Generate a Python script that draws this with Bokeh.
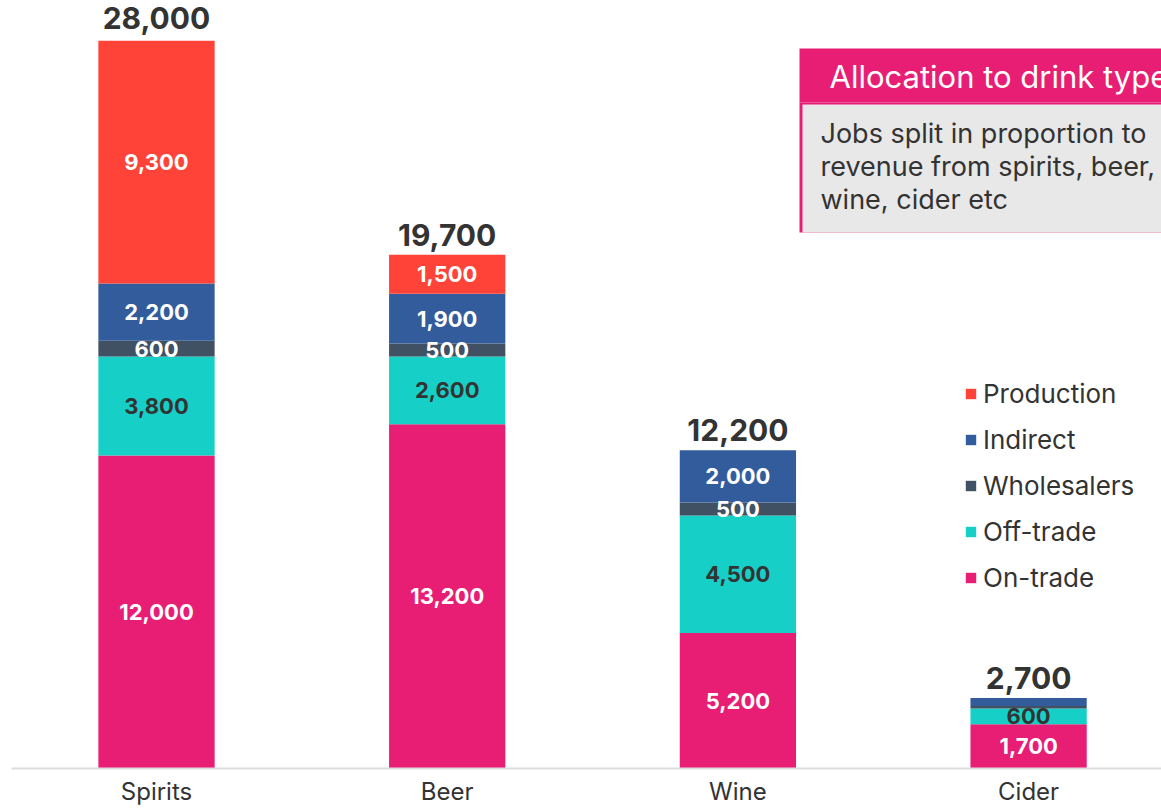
from bokeh.plotting import figure
from bokeh.models import (ColumnDataSource, Range1d, FixedTicker, Legend, LegendItem,
                          BoxAnnotation, Label)
from bokeh.core.properties import value
from bokeh.embed import file_html
from bokeh.resources import INLINE

# ---- data ----
categories = ["Spirits", "Beer", "Wine", "Cider"]
series = ["On-trade", "Off-trade", "Wholesalers", "Indirect", "Production"]
on_trade = [12000, 13200, 5200, 1700]
off_trade = [3800, 2600, 4500, 600]
wholesalers = [600, 500, 500, 100]
indirect = [2200, 1900, 2000, 300]
production = [9300, 1500, 0, 0]
totals = [28000, 19700, 12200, 2700]
colors = ["#E81D74", "#16D0C8", "#3F5163", "#335C9C", "#FF4338"]
label_colors = ["white", "#333333", "white", "white", "white"]

FONT = "Inter"
W, H = 1161, 809
FRAME_L, FRAME_B = 11, 768
PX_PER_CAT = 290.7
PX_PER_UNIT = 0.02608
x = [i + 0.5 for i in range(len(categories))]
x0 = 0.0012
x1 = x0 + (W - FRAME_L) / PX_PER_CAT
y1 = FRAME_B / PX_PER_UNIT

src = ColumnDataSource(dict(x=x, total=totals, tlabel=[f"{t:,}" for t in totals],
                            **dict(zip(series, [on_trade, off_trade, wholesalers, indirect, production]))))

p = figure(width=W, height=H, output_backend="svg", toolbar_location=None,
           x_range=Range1d(x0, x1), y_range=Range1d(0, y1),
           min_border_left=FRAME_L, min_border_right=0, min_border_top=0,
           min_border_bottom=H - FRAME_B)
p.outline_line_color = None
p.grid.visible = False
p.yaxis.visible = False
p.background_fill_color = "white"

rends = p.vbar_stack(series, x="x", width=0.40, color=colors, line_color=None, source=src)

# segment labels
lx, ly, lt, lc = [], [], [], []
vals = [on_trade, off_trade, wholesalers, indirect, production]
for i in range(len(categories)):
    base = 0
    for s, v in enumerate(vals):
        val = v[i]
        if val >= 500:
            lx.append(x[i]); ly.append(base + val / 2); lt.append(f"{val:,}"); lc.append(label_colors[s])
        base += val
p.text(x=lx, y=ly, text=lt, text_color=lc, text_align="center", text_baseline="middle",
       text_font=value(FONT), text_font_size="22px", text_font_style="bold")

# totals
p.text(x="x", y="total", text="tlabel", source=src, text_color="#333333", text_align="center",
       text_baseline="middle", y_offset=-20, text_font=value(FONT), text_font_size="30px",
       text_font_style="bold")

# x axis
ax = p.xaxis[0]
ax.ticker = FixedTicker(ticks=x)
ax.major_label_overrides = {xx: c for xx, c in zip(x, categories)}
ax.axis_line_color = "#dddddd"
ax.axis_line_width = 2
ax.major_tick_line_color = None
ax.minor_tick_line_color = None
ax.major_tick_in = 0
ax.major_tick_out = 0
ax.major_label_text_font = FONT
ax.major_label_text_font_size = "24px"
ax.major_label_text_color = "#333333"
ax.major_label_standoff = 8

# legend
items = [LegendItem(label=s, renderers=[r]) for s, r in zip(series, rends)][::-1]
leg = Legend(items=items, location=(953, 175), orientation="vertical",
             glyph_width=13, glyph_height=13, label_standoff=6, spacing=15,
             padding=0, margin=0, border_line_color=None, background_fill_alpha=0,
             label_text_font=FONT, label_text_font_size="26px", label_text_color="#333333")
p.add_layout(leg)

# info box (pixel -> data helpers for layout only)
def px2x(px):
    return x0 + (px - FRAME_L) / PX_PER_CAT

def px2y(py):
    return (FRAME_B - py) / PX_PER_UNIT

p.add_layout(BoxAnnotation(left=px2x(799), top=px2y(48), bottom=px2y(102),
                           fill_color="#E81D74", fill_alpha=1, line_color=None))
p.add_layout(BoxAnnotation(left=px2x(799), top=px2y(102), bottom=px2y(232),
                           fill_color="#E81D74", fill_alpha=1, line_color=None))
p.add_layout(BoxAnnotation(left=px2x(802), top=px2y(104), bottom=px2y(232),
                           fill_color="#E8E8E8", fill_alpha=1, line_color=None))
p.add_layout(Label(x=px2x(829), y=px2y(76), text="Allocation to drink type", text_color="white",
                   text_font=FONT, text_font_size="31px", text_baseline="middle"))
for k, line in enumerate(["Jobs split in proportion to", "revenue from spirits, beer,",
                          "wine, cider etc"]):
    p.add_layout(Label(x=px2x(820), y=px2y(133 + 33 * k), text=line, text_color="#333333",
                       text_font=FONT, text_font_size="27px", text_baseline="middle"))

open("out.html", "w").write(file_html(p, INLINE))
